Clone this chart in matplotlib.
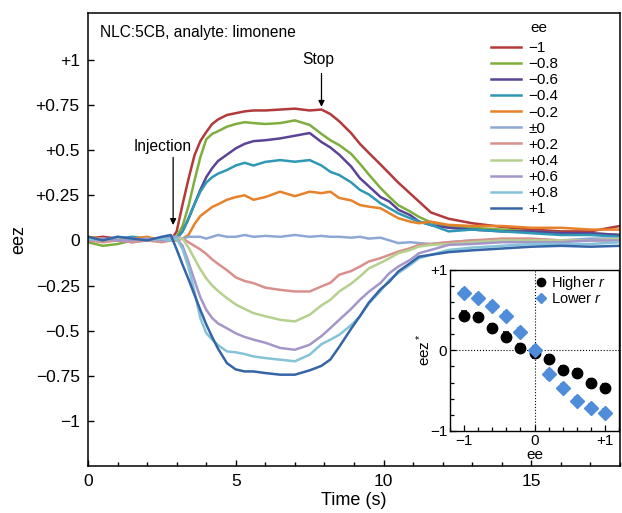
import numpy as np
import matplotlib
matplotlib.use("Agg")
import matplotlib.pyplot as plt
from matplotlib.lines import Line2D
from matplotlib.ticker import FixedLocator, MultipleLocator

plt.rcParams['font.family'] = ['Liberation Sans', 'DejaVu Sans']
plt.rcParams['mathtext.fontset'] = 'custom'
plt.rcParams['mathtext.rm'] = 'Liberation Sans'
plt.rcParams['mathtext.it'] = 'Liberation Sans:italic'

# time grid (s) shared by all traces
time_s = [0, 0.5, 1, 1.5, 2, 2.5, 2.8, 3.0, 3.2, 3.4, 3.6, 3.8, 4.0, 4.2, 4.4, 4.7,
          5.0, 5.3, 5.6, 6.0, 6.5, 7.0, 7.5, 7.9, 8.2, 8.5, 8.9, 9.2, 9.5, 9.9, 10.2,
          10.5, 10.9, 11.2, 11.6, 12.2, 13, 14, 15, 16, 17, 18]

eez_m10 = [0.01, 0.02, 0.01, 0.0, 0.01, 0.0, 0.0, 0.05, 0.2, 0.34, 0.47, 0.55, 0.6, 0.645, 0.67, 0.695,
           0.705, 0.715, 0.72, 0.72, 0.725, 0.73, 0.72, 0.725, 0.70, 0.66, 0.595, 0.535, 0.485, 0.42, 0.37,
           0.32, 0.26, 0.215, 0.155, 0.12, 0.095, 0.075, 0.06, 0.05, 0.05, 0.08]
eez_m08 = [-0.01, -0.03, -0.02, 0.0, 0.0, 0.01, 0.0, 0.02, 0.08, 0.19, 0.33, 0.46, 0.56, 0.59, 0.605, 0.63,
           0.645, 0.655, 0.65, 0.645, 0.65, 0.665, 0.64, 0.59, 0.555, 0.528, 0.48, 0.425, 0.365, 0.29, 0.24,
           0.195, 0.16, 0.13, 0.10, 0.08, 0.07, 0.06, 0.05, 0.04, 0.04, 0.03]
eez_m06 = [0.0, 0.01, 0.0, 0.01, 0.0, 0.01, 0.0, 0.01, 0.05, 0.12, 0.2, 0.28, 0.35, 0.40, 0.44, 0.475,
           0.51, 0.535, 0.55, 0.555, 0.565, 0.58, 0.595, 0.545, 0.515, 0.475, 0.41, 0.345, 0.30, 0.24, 0.215,
           0.17, 0.14, 0.105, 0.085, 0.07, 0.06, 0.05, 0.05, 0.04, 0.04, 0.03]
eez_m04 = [0.01, 0.0, 0.01, 0.02, 0.01, 0.0, 0.0, 0.01, 0.05, 0.12, 0.2, 0.27, 0.32, 0.35, 0.37, 0.39,
           0.415, 0.43, 0.415, 0.435, 0.445, 0.436, 0.445, 0.415, 0.38, 0.362, 0.322, 0.28, 0.255, 0.205, 0.178,
           0.15, 0.123, 0.104, 0.086, 0.05, 0.06, 0.05, 0.04, 0.03, 0.03, 0.02]
eez_m02 = [0.02, 0.01, 0.0, 0.01, 0.02, 0.0, 0.0, 0.0, 0.01, 0.03, 0.09, 0.135, 0.16, 0.185, 0.20, 0.225,
           0.24, 0.25, 0.225, 0.24, 0.27, 0.245, 0.27, 0.262, 0.27, 0.235, 0.222, 0.196, 0.187, 0.178, 0.15,
           0.123, 0.104, 0.095, 0.104, 0.086, 0.08, 0.08, 0.07, 0.07, 0.06, 0.06]
eez_00 = [0.0, 0.01, 0.0, -0.01, 0.0, 0.01, 0.02, 0.02, 0.01, 0.02, 0.02, 0.02, 0.01, 0.02, 0.03, 0.02,
          0.02, 0.03, 0.02, 0.025, 0.02, 0.03, 0.02, 0.025, 0.02, 0.02, 0.015, 0.02, 0.01, 0.015, 0.0,
          -0.015, -0.01, -0.015, -0.02, -0.01, 0.0, 0.0, 0.005, 0.0, 0.01, 0.01]
eez_p02 = [0.0, -0.01, 0.0, -0.01, 0.0, -0.01, 0.0, 0.01, 0.01, -0.01, -0.03, -0.05, -0.075, -0.105, -0.13, -0.165,
           -0.205, -0.225, -0.237, -0.262, -0.274, -0.283, -0.283, -0.255, -0.235, -0.19, -0.17, -0.145, -0.117, -0.098, -0.08,
           -0.062, -0.043, -0.025, -0.02, -0.01, 0.0, 0.01, 0.01, 0.0, 0.0, 0.0]
eez_p04 = [0.01, 0.0, 0.01, 0.0, 0.01, 0.0, 0.0, 0.01, 0.01, -0.04, -0.1, -0.16, -0.21, -0.25, -0.28, -0.32,
           -0.355, -0.38, -0.403, -0.42, -0.44, -0.449, -0.412, -0.36, -0.329, -0.283, -0.24, -0.2, -0.155, -0.124, -0.099,
           -0.071, -0.053, -0.034, -0.025, -0.02, -0.01, 0.0, 0.0, 0.0, 0.0, 0.01]
eez_p06 = [0.0, 0.01, 0.0, 0.0, 0.01, 0.0, 0.0, 0.01, -0.03, -0.12, -0.22, -0.315, -0.384, -0.43, -0.46, -0.487,
           -0.515, -0.535, -0.55, -0.567, -0.596, -0.606, -0.578, -0.53, -0.486, -0.44, -0.38, -0.329, -0.285, -0.235, -0.181,
           -0.145, -0.108, -0.071, -0.053, -0.025, -0.02, -0.01, -0.01, -0.01, 0.0, 0.0]
eez_p08 = [0.01, 0.0, 0.02, 0.01, 0.0, 0.01, 0.0, 0.01, -0.05, -0.15, -0.28, -0.43, -0.513, -0.55, -0.58, -0.615,
           -0.62, -0.63, -0.643, -0.652, -0.661, -0.67, -0.633, -0.575, -0.55, -0.523, -0.47, -0.42, -0.35, -0.28, -0.218,
           -0.181, -0.136, -0.099, -0.08, -0.053, -0.04, -0.03, -0.02, -0.02, -0.02, -0.01]
eez_p10 = [0.02, 0.0, 0.02, 0.01, 0.0, 0.02, 0.03, -0.05, -0.135, -0.215, -0.30, -0.385, -0.465, -0.535, -0.60, -0.68,
           -0.715, -0.726, -0.726, -0.735, -0.744, -0.744, -0.72, -0.695, -0.66, -0.59, -0.49, -0.42, -0.345, -0.27, -0.228,
           -0.172, -0.126, -0.09, -0.08, -0.065, -0.055, -0.045, -0.035, -0.03, -0.035, -0.03]

series = [eez_m10, eez_m08, eez_m06, eez_m04, eez_m02, eez_00,
          eez_p02, eez_p04, eez_p06, eez_p08, eez_p10]
ee_labels = ['\u22121', '\u22120.8', '\u22120.6', '\u22120.4', '\u22120.2', '\u00b10',
             '+0.2', '+0.4', '+0.6', '+0.8', '+1']
colors = ['#b23a3a', '#7eae3e', '#5b4497', '#2f98b5', '#e7812a', '#8ea8d5',
          '#d9908c', '#b6d08f', '#a596ca', '#85c3d9', '#3565a7']

ytick_vals = [-1, -0.75, -0.5, -0.25, 0, 0.25, 0.5, 0.75, 1]
ytick_labels = ['\u22121', '\u22120.75', '\u22120.5', '\u22120.25', '0', '+0.25', '+0.5', '+0.75', '+1']

# inset: eez* vs ee
ins_ee = [-1, -0.8, -0.6, -0.4, -0.2, 0, 0.2, 0.4, 0.6, 0.8, 1]
ins_higher = [0.43, 0.41, 0.275, 0.17, 0.025, -0.04, -0.11, -0.24, -0.28, -0.41, -0.47]
ins_higher_err = [0.05, 0.05, 0.05, 0.05, 0.05, 0.05, 0.05, 0.05, 0.05, 0.05, 0.05]
ins_lower = [0.71, 0.65, 0.55, 0.42, 0.23, 0.0, -0.30, -0.47, -0.63, -0.71, -0.78]
ins_lower_err = [0.05, 0.05, 0.05, 0.05, 0.05, 0.05, 0.05, 0.05, 0.05, 0.05, 0.05]
blue_pt = '#4f8cd9'

fig = plt.figure(figsize=(6.22, 5.13), dpi=100)
ax = fig.add_axes([88 / 622, 47 / 513, 532 / 622, 453 / 513])

for vals, lab, c in zip(series, ee_labels, colors):
    ax.plot(time_s, vals, color=c, lw=1.8, label=lab)

ax.set_xlim(0, 18)
ax.set_ylim(-1.25, 1.26)
ax.xaxis.set_major_locator(FixedLocator([0, 5, 10, 15]))
ax.xaxis.set_minor_locator(MultipleLocator(1))
ax.yaxis.set_major_locator(FixedLocator(ytick_vals))
ax.set_yticklabels(ytick_labels)
ax.tick_params(which='both', direction='in', top=False, right=False, labelsize=12.5, width=1)
ax.tick_params(which='major', length=4, pad=6)
ax.tick_params(which='minor', length=3)
for sp in ax.spines.values():
    sp.set_linewidth(1.1)
ax.set_xlabel('Time (s)', fontsize=13, labelpad=2)
ax.set_ylabel('eez', fontsize=13, labelpad=6)

ax.text(0.022, 0.958, 'NLC:5CB, analyte: limonene', transform=ax.transAxes,
        fontsize=11.2, va='center', ha='left')
ax.text(2.52, 0.52, 'Injection', fontsize=11.2, ha='center', va='center')
ax.annotate('', xy=(2.88, 0.085), xytext=(2.88, 0.46),
            arrowprops=dict(arrowstyle='-|>', color='k', lw=0.9, mutation_scale=9,
                            shrinkA=0, shrinkB=0))
ax.text(7.8, 1.0, 'Stop', fontsize=11.2, ha='center', va='center')
ax.annotate('', xy=(7.9, 0.74), xytext=(7.9, 0.925),
            arrowprops=dict(arrowstyle='-|>', color='k', lw=0.9, mutation_scale=9,
                            shrinkA=0, shrinkB=0))

# legend title drawn separately so its gap to the entries matches
ax.text((539 - 88) / 532, (466 - 28) / 453, 'ee', transform=ax.transAxes,
        fontsize=11, ha='center', va='center')
ax.legend(loc='upper left', bbox_to_anchor=((491 - 88) / 532, (466 - 41) / 453), frameon=False,
          fontsize=11, handlelength=1.95, handletextpad=0.5,
          labelspacing=0.14, borderaxespad=0, borderpad=0)

# inset
axin = fig.add_axes([450 / 622, 82 / 513, 169 / 622, 161.5 / 513])
axin.axhline(0, color='k', lw=0.8, ls=':')
axin.axvline(0, color='k', lw=0.8, ls=':')
axin.errorbar(ins_ee, ins_higher, yerr=ins_higher_err, fmt='o', color='k', ms=7.5,
              capsize=2.5, elinewidth=1.2, capthick=1.2)
axin.errorbar(ins_ee, ins_lower, yerr=ins_lower_err, fmt='D', color=blue_pt, ms=6.8,
              capsize=2.5, elinewidth=1.2, capthick=1.2)
axin.set_xlim(-1.2, 1.2)
axin.set_ylim(-1, 1)
axin.xaxis.set_major_locator(FixedLocator([-1, 0, 1]))
axin.xaxis.set_minor_locator(MultipleLocator(0.2))
axin.yaxis.set_major_locator(FixedLocator([-1, 0, 1]))
axin.yaxis.set_minor_locator(MultipleLocator(0.2))
axin.set_xticklabels(['\u22121', '0', '+1'])
axin.set_yticklabels(['\u22121', '0', '+1'])
axin.tick_params(which='both', direction='in', top=False, right=False, labelsize=11, width=0.9)
axin.tick_params(which='major', length=4, pad=2)
axin.tick_params(which='minor', length=3)
for sp in axin.spines.values():
    sp.set_linewidth(1.0)
axin.set_xlabel('ee', fontsize=11, labelpad=0)
axin.set_ylabel('eez$^*$', fontsize=11, labelpad=-2)
handles = [Line2D([], [], ls='none', marker='o', color='k', ms=6),
           Line2D([], [], ls='none', marker='D', color=blue_pt, ms=5.5)]
axin.legend(handles, ['Higher $r$', 'Lower $r$'], loc='upper left',
            bbox_to_anchor=(0.5, 0.97), frameon=False, fontsize=10.5,
            handletextpad=0.2, labelspacing=0.0, borderaxespad=0, borderpad=0,
            handlelength=0.9)

fig.savefig('out.png', dpi=100)
